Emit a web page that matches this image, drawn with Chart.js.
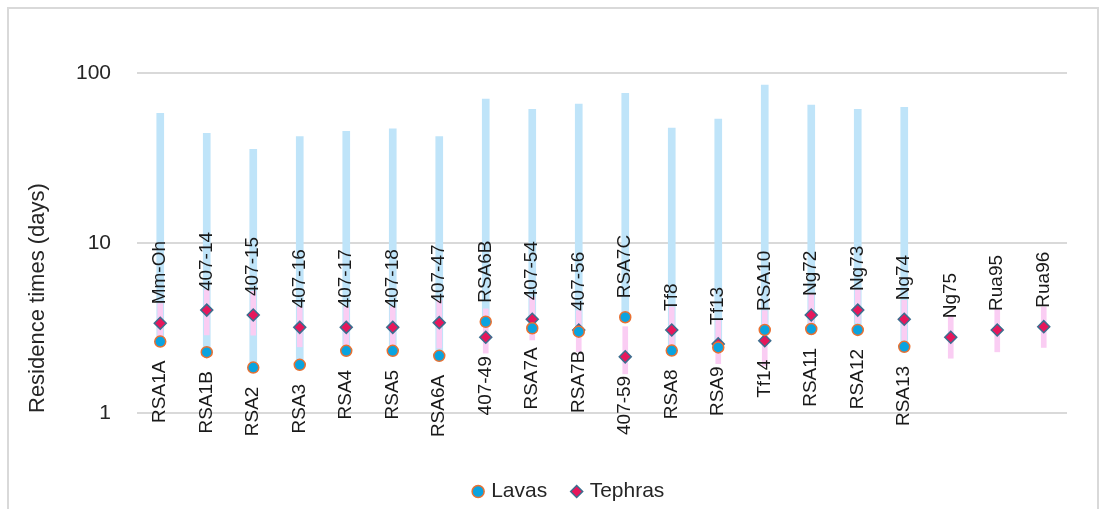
<!DOCTYPE html>
<html>
<head>
<meta charset="utf-8">
<script src="https://cdn.jsdelivr.net/npm/chart.js@4.4.1/dist/chart.umd.min.js"></script>
<style>
  html, body { margin: 0; padding: 0; background: #fff; overflow: hidden; width: 1106px; height: 509px; }
  #frame { position: absolute; left: 7px; top: 7px; width: 1088px; height: 560px; border: 2px solid #d9d9d9; }
  #wrap { position: absolute; left: 0; top: 0; width: 1106px; height: 512px; }
</style>
</head>
<body>
<div id="frame"></div>
<div id="wrap"><canvas id="c" width="1106" height="512" style="width:1106px;height:512px"></canvas></div>
<script>
// Sample names at each position (lava sample / tephra sample)
const lavaNames = ['RSA1A', 'RSA1B', 'RSA2', 'RSA3', 'RSA4', 'RSA5', 'RSA6A', 'RSA6B', 'RSA7A', 'RSA7B',
  'RSA7C', 'RSA8', 'RSA9', 'RSA10', 'RSA11', 'RSA12', 'RSA13', null, null, null];
const tephraNames = ['Mm-Oh', '407-14', '407-15', '407-16', '407-17', '407-18', '407-47', '407-49', '407-54', '407-56',
  '407-59', 'Tf8', 'Tf13', 'Tf14', 'Ng72', 'Ng73', 'Ng74', 'Ng75', 'Rua95', 'Rua96'];

// Residence times (days)
const lavaValues = [2.63, 2.28, 1.85, 1.92, 2.32, 2.32, 2.17, 3.44, 3.15, 3.01,
  3.66, 2.33, 2.43, 3.08, 3.12, 3.08, 2.45, null, null, null];
const lavaMax = [57.9, 44.2, 35.6, 42.2, 45.4, 46.9, 42.2, 70.3, 61.1, 65.7,
  76.0, 47.5, 53.6, 85.0, 64.8, 61.1, 62.9, null, null, null];

const tephraValues = [3.37, 4.03, 3.77, 3.19, 3.19, 3.19, 3.40, 2.79, 3.56, 3.08,
  2.14, 3.08, 2.55, 2.66, 3.77, 4.03, 3.56, 2.79, 3.08, 3.22];
const tephraLow = [2.81, 2.88, 2.87, 2.45, 2.51, 2.51, 2.41, 2.25, 2.69, 2.29,
  1.70, 2.45, 1.95, 1.90, 3.25, 3.40, 2.69, 2.10, 2.29, 2.43];
const tephraHigh = [4.4, 5.3, 5.2, 4.2, 4.2, 4.2, 4.6, 4.1, 4.8, 4.0,
  3.22, 4.2, 3.5, 4.0, 5.0, 5.3, 4.6, 3.7, 4.1, 4.2];

const yTicks = [1, 10, 100];

const FONT = '"Liberation Sans", Arial, sans-serif';
const TEXT = '#262626';

// Vertical sample-name labels: the upper point of each pair gets its name above, the lower one below
const sampleLabels = {
  id: 'sampleLabels',
  afterDatasetsDraw(chart) {
    const ctx = chart.ctx, xs = chart.scales.x, ys = chart.scales.y;
    const gap = 19;
    ctx.save();
    ctx.font = '19px ' + FONT;
    ctx.fillStyle = '#1a1a1a';
    ctx.textBaseline = 'middle';
    const put = (name, v, px, above) => {
      if (!name || v == null) return;
      const py = ys.getPixelForValue(v);
      ctx.save();
      ctx.translate(px, above ? py - gap : py + gap);
      ctx.rotate(-Math.PI / 2);
      ctx.textAlign = above ? 'left' : 'right';
      ctx.fillText(name, 0, 0);
      ctx.restore();
    };
    tephraNames.forEach((_, i) => {
      const px = xs.getPixelForValue(i);
      const lv = lavaValues[i], tv = tephraValues[i];
      const lavaOnTop = lv != null && (tv == null || lv > tv);
      put(lavaNames[i], lv, px, lavaOnTop);
      put(tephraNames[i], tv, px, !lavaOnTop);
    });
    ctx.restore();
  }
};

new Chart(document.getElementById('c'), {
  type: 'bar',
  data: {
    labels: tephraNames,
    datasets: [
      {
        type: 'line',
        label: 'Lavas',
        data: lavaValues,
        showLine: false,
        pointStyle: 'circle',
        pointRadius: 5.5,
        pointBackgroundColor: '#0AA3DF',
        pointBorderColor: '#E97132',
        pointBorderWidth: 1.5,
        backgroundColor: '#0AA3DF',
        borderColor: '#E97132',
        borderWidth: 1.5,
        order: 0
      },
      {
        type: 'line',
        label: 'Tephras',
        data: tephraValues,
        showLine: false,
        pointStyle: 'rectRot',
        pointRadius: 6,
        pointBackgroundColor: '#E6175C',
        pointBorderColor: '#3C6E8F',
        pointBorderWidth: 1.5,
        backgroundColor: '#E6175C',
        borderColor: '#3C6E8F',
        borderWidth: 1.5,
        order: 0
      },
      {
        label: 'Tephra range',
        data: tephraLow.map((lo, i) => [lo, tephraHigh[i]]),
        backgroundColor: '#FACDF3',
        borderWidth: 0,
        barThickness: 5,
        grouped: false,
        order: 1
      },
      {
        label: 'Lava range',
        data: lavaValues.map((v, i) => (v == null ? null : [v, lavaMax[i]])),
        backgroundColor: '#BFE4F9',
        borderWidth: 0,
        barThickness: 7,
        grouped: false,
        order: 2
      }
    ]
  },
  options: {
    responsive: false,
    animation: false,
    events: [],
    layout: { padding: { left: 73, right: 39, top: 73, bottom: 0 } },
    scales: {
      x: {
        type: 'category',
        offset: true,
        grid: { display: false },
        border: { display: false },
        ticks: { display: false },
        afterFit: (s) => { s.height = 41; }
      },
      y: {
        type: 'logarithmic',
        min: 1,
        max: 100,
        afterBuildTicks: (s) => { s.ticks = yTicks.map(v => ({ value: v })); },
        afterFit: (s) => { s.width = 64; },
        ticks: {
          padding: 26,
          color: TEXT,
          font: { family: FONT, size: 21 },
          callback: (v) => String(v)
        },
        grid: { color: '#d9d9d9', lineWidth: 2, drawTicks: false },
        border: { display: false },
        title: {
          display: true,
          text: 'Residence times (days)',
          align: 'start',
          color: TEXT,
          font: { family: FONT, size: 22 },
          padding: { top: -48, bottom: 0 }
        }
      }
    },
    plugins: {
      tooltip: { enabled: false },
      legend: {
        position: 'bottom',
        labels: {
          usePointStyle: true,
          boxWidth: 5,
          boxHeight: 8.5,
          padding: 27,
          color: TEXT,
          font: { family: FONT, size: 21 },
          filter: (item) => item.text === 'Lavas' || item.text === 'Tephras'
        }
      }
    }
  },
  plugins: [sampleLabels]
});
</script>
</body>
</html>
